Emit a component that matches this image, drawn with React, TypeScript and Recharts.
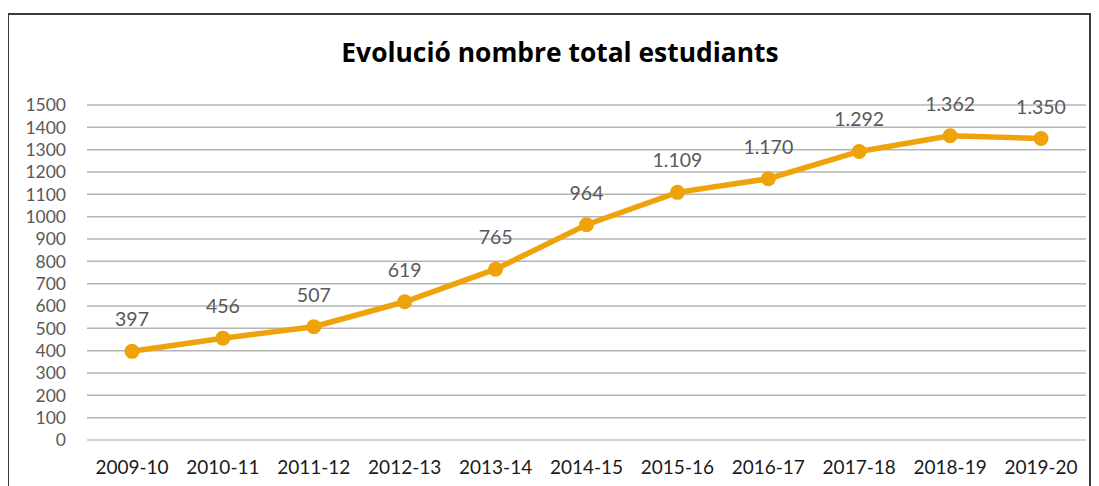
import { CartesianGrid, LabelList, Line, LineChart, XAxis, YAxis } from "recharts";

const cursos = [
  "2009-10",
  "2010-11",
  "2011-12",
  "2012-13",
  "2013-14",
  "2014-15",
  "2015-16",
  "2016-17",
  "2017-18",
  "2018-19",
  "2019-20",
];
const estudiants = [397, 456, 507, 619, 765, 964, 1109, 1170, 1292, 1362, 1350];
const yTicks = [0, 100, 200, 300, 400, 500, 600, 700, 800, 900, 1000, 1100, 1200, 1300, 1400, 1500];

const data = cursos.map((curs, i) => ({ curs, total: estudiants[i] }));

const FONT = "Lato, 'Open Sans', sans-serif";
const GOLD = "#EFA30B";

// thousands with a dot, as in Catalan
const fmt = (v: unknown) => {
  const n = Number(v);
  if (n < 1000) return String(n);
  return `${Math.floor(n / 1000)}.${String(n % 1000).padStart(3, "0")}`;
};

export default function App() {
  return (
    <div
      style={{
        marginTop: 5,
        marginLeft: -1,
        width: 1084,
        height: 500,
        border: "2px solid #3a3a3a",
        boxSizing: "border-box",
        position: "relative",
        overflow: "hidden",
        fontFamily: FONT,
      }}
    >
      <div
        style={{
          position: "absolute",
          top: 19,
          left: 0,
          width: "100%",
          textAlign: "center",
          fontSize: 26.4,
          fontWeight: 700,
          fontFamily: "'Open Sans', sans-serif",
          color: "#000",
          paddingLeft: 22,
          boxSizing: "border-box",
        }}
      >
        Evolució nombre total estudiants
      </div>
      <LineChart
        width={1080}
        height={480}
        data={data}
        margin={{ top: 90, right: 3, left: 0, bottom: 0 }}
      >
        <CartesianGrid vertical={false} stroke="#B5B5B5" strokeWidth={1.5} />
        <XAxis
          dataKey="curs"
          height={55}
          padding={{ left: 45, right: 45 }}
          tickLine={false}
          tickSize={0}
          tickMargin={21}
          axisLine={{ stroke: "#D9D9D9", strokeWidth: 1.5 }}
          tick={{ fontSize: 19, fill: "#1a1a1a", fontFamily: FONT }}
          interval={0}
        />
        <YAxis
          width={78}
          domain={[0, 1500]}
          ticks={yTicks}
          interval={0}
          tickLine={false}
          axisLine={false}
          tickSize={0}
          tickMargin={21}
          tick={{ fontSize: 17.5, fill: "#595959", fontFamily: FONT }}
        />
        <Line
          type="linear"
          dataKey="total"
          stroke={GOLD}
          strokeWidth={5.5}
          dot={{ r: 7.5, fill: GOLD, stroke: GOLD, strokeWidth: 0 }}
          isAnimationActive={false}
        >
          <LabelList
            dataKey="total"
            position="top"
            offset={25}
            formatter={fmt}
            style={{ fontSize: 19.5, fill: "#595959", fontFamily: FONT }}
          />
        </Line>
      </LineChart>
    </div>
  );
}
